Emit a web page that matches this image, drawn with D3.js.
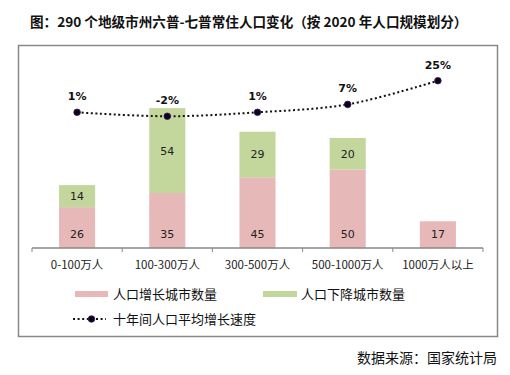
<!DOCTYPE html>
<html>
<head>
<meta charset="utf-8">
<script src="https://cdn.jsdelivr.net/npm/d3@7"></script>
<style>
  body { margin: 0; background: #fff; }
  svg { display: block; font-family: "Noto Sans CJK SC", "Noto Sans", sans-serif; }
</style>
</head>
<body>
<div id="chart"></div>
<script>
// Population change of 290 prefecture-level cities, grouped by 2020 size
const categories = ["0-100万人", "100-300万人", "300-500万人", "500-1000万人", "1000万人以上"];
const growCities = [26, 35, 45, 50, 17];
const declineCities = [14, 54, 29, 20, 0];
const avgGrowth = [1, -2, 1, 7, 25];

const W = 510, H = 375;
const pink = "#e6b9b8", green = "#c3d69b";

const svg = d3.select("#chart").append("svg")
  .attr("width", W)
  .attr("height", H);

svg.append("text")
  .attr("x", 30)
  .attr("y", 27)
  .attr("font-size", "13.6px")
  .attr("font-weight", "bold")
  .attr("fill", "#111")
  .text("图：290 个地级市州六普-七普常住人口变化（按 2020 年人口规模划分）");

// chart frame
svg.append("rect")
  .attr("x", 18.5)
  .attr("y", 45.5)
  .attr("width", 479)
  .attr("height", 291)
  .attr("fill", "none")
  .attr("stroke", "#888")
  .attr("stroke-width", 1.5);

const x = d3.scaleBand().domain(categories).range([32, 483]).paddingInner(0.6).paddingOuter(0.3);
const y = d3.scaleLinear().domain([0, 100]).range([248, 90.8]);
const y2 = d3.scaleLinear().domain([-102, 25]).range([248, 80.7]);

const rows = categories.map((c, i) => ({ cat: c, grow: growCities[i], decline: declineCities[i], rate: avgGrowth[i] }));

// bars
const bars = svg.append("g");
bars.selectAll(".grow")
  .data(rows)
  .join("rect")
  .attr("x", d => x(d.cat))
  .attr("width", x.bandwidth())
  .attr("y", d => y(d.grow))
  .attr("height", d => y(0) - y(d.grow))
  .attr("fill", pink);

bars.selectAll(".decline")
  .data(rows.filter(d => d.decline > 0))
  .join("rect")
  .attr("x", d => x(d.cat))
  .attr("width", x.bandwidth())
  .attr("y", d => y(d.grow + d.decline))
  .attr("height", d => y(d.grow) - y(d.grow + d.decline))
  .attr("fill", green);

// bar labels (growth at the base, decline centred)
bars.selectAll(".lblg")
  .data(rows)
  .join("text")
  .attr("x", d => x(d.cat) + x.bandwidth() / 2)
  .attr("y", y(0) - 10)
  .attr("text-anchor", "middle")
  .attr("font-size", "11px")
  .attr("font-family", "'DejaVu Sans', sans-serif")
  .attr("fill", "#222")
  .text(d => d.grow);

bars.selectAll(".lbld")
  .data(rows.filter(d => d.decline > 0))
  .join("text")
  .attr("x", d => x(d.cat) + x.bandwidth() / 2)
  .attr("y", d => (y(d.grow) + y(d.grow + d.decline)) / 2 + 4)
  .attr("text-anchor", "middle")
  .attr("font-size", "11px")
  .attr("font-family", "'DejaVu Sans', sans-serif")
  .attr("fill", "#222")
  .text(d => d.decline);

// x axis
const axis = svg.append("g").attr("transform", `translate(0,${y(0)})`);
axis.append("line")
  .attr("x1", 32).attr("x2", 483)
  .attr("stroke", "#888").attr("stroke-width", 1.5);
const bounds = categories.map(c => x(c) - x.step() * x.paddingInner() / 2).concat([483]);
bounds[0] = 32;
axis.selectAll(".tick")
  .data(bounds)
  .join("line")
  .attr("x1", d => d).attr("x2", d => d)
  .attr("y1", 0).attr("y2", 4)
  .attr("stroke", "#888");
axis.selectAll(".cat")
  .data(categories)
  .join("text")
  .attr("x", d => x(d) + x.bandwidth() / 2)
  .attr("y", 21)
  .attr("text-anchor", "middle")
  .attr("font-size", "11.5px")
  .attr("fill", "#222")
  .text(d => d);

// growth line
const line = d3.line()
  .x(d => x(d.cat) + x.bandwidth() / 2)
  .y(d => y2(d.rate))
  .curve(d3.curveCatmullRom.alpha(0.5));

svg.append("path")
  .datum(rows)
  .attr("d", line)
  .attr("fill", "none")
  .attr("stroke", "#111")
  .attr("stroke-width", 2)
  .attr("stroke-dasharray", "2,2.6");

svg.selectAll(".pt")
  .data(rows)
  .join("circle")
  .attr("cx", d => x(d.cat) + x.bandwidth() / 2)
  .attr("cy", d => y2(d.rate))
  .attr("r", 3.3)
  .attr("fill", "#0c0020")
  .attr("stroke", "#3a1f5c")
  .attr("stroke-width", 0.8);

svg.selectAll(".ptl")
  .data(rows)
  .join("text")
  .attr("x", d => x(d.cat) + x.bandwidth() / 2)
  .attr("y", d => y2(d.rate) - 12)
  .attr("text-anchor", "middle")
  .attr("font-size", "11px")
  .attr("font-weight", "bold")
  .attr("font-family", "'DejaVu Sans', sans-serif")
  .attr("fill", "#111")
  .text(d => d.rate + "%");

// legend
const legend = svg.append("g").attr("font-size", "13px").attr("fill", "#111");
legend.append("rect").attr("x", 75).attr("y", 291).attr("width", 33).attr("height", 6).attr("fill", pink);
legend.append("text").attr("x", 113).attr("y", 299).text("人口增长城市数量");
legend.append("rect").attr("x", 263).attr("y", 291).attr("width", 34).attr("height", 6).attr("fill", green);
legend.append("text").attr("x", 301).attr("y", 299).text("人口下降城市数量");
legend.append("line")
  .attr("x1", 73).attr("x2", 106).attr("y1", 319).attr("y2", 319)
  .attr("stroke", "#111").attr("stroke-width", 2).attr("stroke-dasharray", "2,2.6");
legend.append("circle").attr("cx", 91.5).attr("cy", 319).attr("r", 3.3)
  .attr("fill", "#0c0020").attr("stroke", "#3a1f5c").attr("stroke-width", 0.8);
legend.append("text").attr("x", 113).attr("y", 324).text("十年间人口平均增长速度");

svg.append("text")
  .attr("x", 497)
  .attr("y", 363)
  .attr("text-anchor", "end")
  .attr("font-size", "14px")
  .attr("fill", "#111")
  .text("数据来源：国家统计局");
</script>
</body>
</html>
